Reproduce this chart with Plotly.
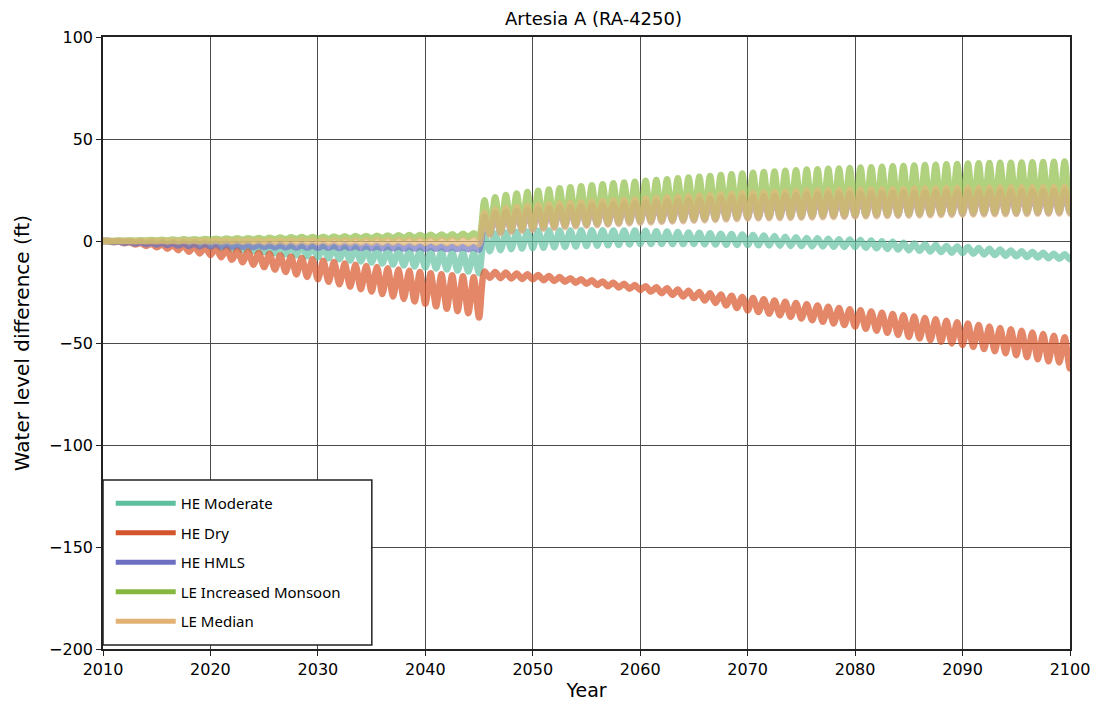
import plotly.graph_objects as go

# ---------------- data ----------------
years = list(range(2010, 2101))  # 91 years; "lo" value at the year, "hi" value half a year later

names = ["HE Moderate", "HE Dry", "HE HMLS", "LE Increased Monsoon", "LE Median"]

# HE Moderate
mod_lo = [0, -0.3, -0.6, -0.9, -1.2, -1.5, -1.8, -2.1, -2.4, -2.7, -3.0, -3.5, -4.0, -4.5, -5.0,
          -5.5, -6.0, -6.5, -7.0, -7.5, -8.0, -8.5, -9.0, -9.5, -10.0, -10.5, -11.0, -11.5, -12.0, -12.5,
          -13.0, -13.5, -14.0, -14.5, -15.0, -15.8,
          -5.0, -4.5, -4.0, -3.7, -3.5, -3.3, -3.1, -2.9, -2.7, -2.5, -2.3, -2.1, -1.9, -1.7, -1.5,
          -1.5, -1.5, -1.5, -1.5, -1.5, -1.6, -1.7, -1.8, -1.9, -2.0, -2.1, -2.2, -2.3, -2.4, -2.5,
          -2.6, -2.7, -2.8, -2.9, -3.0, -3.3, -3.6, -3.9, -4.2, -4.5, -4.8, -5.1, -5.4, -5.7, -6.0,
          -6.3, -6.6, -6.9, -7.2, -7.5, -7.8, -8.1, -8.4, -8.7, -9.0]
mod_hi = [0, 0, -0.1, -0.2, -0.3, -0.4, -0.5, -0.6, -0.7, -0.8, -1.0, -1.2, -1.4, -1.6, -1.8,
          -2.0, -2.2, -2.4, -2.6, -2.8, -3.0, -3.2, -3.4, -3.6, -3.8, -4.0, -4.2, -4.4, -4.6, -4.8,
          -5.0, -5.2, -5.4, -5.6, -5.8,
          3.0, 3.5, 4.0, 4.4, 4.7, 5.0, 5.1, 5.2, 5.2, 5.3, 5.3, 5.3, 5.2, 5.2, 5.1, 5.0,
          4.8, 4.6, 4.4, 4.2, 4.0, 3.8, 3.6, 3.4, 3.2, 3.0, 2.7, 2.4, 2.1, 1.8, 1.5,
          1.3, 1.1, 0.9, 0.7, 0.5, 0.2, -0.1, -0.4, -0.8, -1.2, -1.6, -2.0, -2.4, -2.7, -3.0,
          -3.4, -3.8, -4.2, -4.6, -5.0, -5.4, -5.8, -6.2, -6.5, -6.8]

# HE Dry
dry_lo = [0, -0.5, -1.1, -1.7, -2.4, -3.1, -3.8, -4.5, -5.3, -6.1, -6.9, -8.0, -9.2, -10.4, -11.6,
          -12.8, -14.0, -15.2, -16.4, -17.6, -18.8, -20.0, -21.2, -22.4, -23.6, -24.8, -26.0, -27.2,
          -28.4, -29.6, -30.8, -32.0, -33.2, -34.4, -35.4, -37.5,
          -18.0, -18.2, -18.4, -18.6, -18.8, -19.2, -19.6, -20.0, -20.5, -21.0, -21.6, -22.2, -22.8,
          -23.4, -24.0, -24.8, -25.6, -26.4, -27.2, -28.0, -29.2, -30.4, -31.6, -32.8, -34.0,
          -34.8, -35.6, -36.4, -37.2, -38.0, -38.8, -39.6, -40.4, -41.2, -42.0, -43.0, -44.0, -45.0,
          -46.0, -47.0, -47.8, -48.6, -49.4, -50.2, -51.0, -52.0, -53.0, -54.0, -55.0, -56.0,
          -57.0, -58.0, -59.0, -59.5, -62.5]
dry_hi = [0, -0.3, -0.6, -0.9, -1.2, -1.5, -1.8, -2.1, -2.5, -2.9, -3.3, -3.9, -4.5, -5.1, -5.7,
          -6.3, -7.0, -7.6, -8.3, -9.0, -9.7, -10.3, -11.0, -11.6, -12.2, -12.8, -13.4, -14.0, -14.6,
          -15.2, -15.8, -16.3, -16.8, -17.3, -17.8,
          -15.0, -15.2, -15.5, -15.9, -16.3, -16.7, -17.2, -17.7, -18.2, -18.7, -19.2, -19.8, -20.4,
          -21.0, -21.6, -22.2, -22.7, -23.2, -23.8, -24.4, -25.0, -25.6, -26.2, -26.8, -27.4, -28.0,
          -28.6, -29.2, -29.8, -30.4, -31.0, -31.6, -32.2, -32.8, -33.4, -34.0, -34.6, -35.2, -35.8,
          -36.4, -37.0, -37.7, -38.4, -39.1, -39.8, -40.5, -41.2, -41.9, -42.6, -43.3, -44.0,
          -44.8, -45.6, -46.4, -47.2, -48.0]

# HE HMLS
hmls_lo = [0, -0.5, -0.9, -1.2, -1.5, -1.8, -2.0, -2.2, -2.4, -2.5, -2.6, -2.7, -2.8, -2.9, -3.0,
           -3.0, -3.1, -3.1, -3.2, -3.2, -3.3, -3.3, -3.4, -3.4, -3.5, -3.5, -3.6, -3.6, -3.7, -3.7,
           -3.8, -3.8, -3.9, -3.9, -4.0, -4.2,
           3.5, 4.3, 5.0, 5.5, 6.0, 6.5, 6.9, 7.3, 7.6, 7.9, 8.2, 8.5, 8.8, 9.1, 9.4,
           9.6, 9.8, 10.0, 10.2, 10.4, 10.6, 10.8, 11.0, 11.2, 11.4, 11.5, 11.6, 11.7, 11.8, 11.9,
           12.0, 12.1, 12.2, 12.3, 12.4, 12.5, 12.6, 12.7, 12.8, 12.9, 13.0, 13.1, 13.2, 13.3, 13.4,
           13.5, 13.5, 13.6, 13.6, 13.7, 13.7, 13.8, 13.8, 13.9, 13.9]
hmls_hi = [0, -0.2, -0.4, -0.6, -0.8, -1.0, -1.1, -1.2, -1.3, -1.4, -1.5, -1.6, -1.7, -1.8, -1.9,
           -2.0, -2.0, -2.1, -2.1, -2.2, -2.2, -2.3, -2.3, -2.4, -2.4, -2.5, -2.5, -2.6, -2.6, -2.7,
           -2.7, -2.8, -2.8, -2.9, -2.9,
           12.0, 13.5, 14.2, 14.8, 15.2, 15.6, 16.0, 16.4, 16.7, 17.0, 17.3, 17.6, 17.9, 18.2, 18.5,
           18.8, 19.1, 19.4, 19.7, 20.0, 20.3, 20.6, 20.9, 21.2, 21.5, 21.7, 21.9, 22.1, 22.3, 22.5,
           22.7, 22.8, 22.9, 23.0, 23.1, 23.2, 23.3, 23.4, 23.5, 23.6, 23.7, 23.8, 23.9, 24.0, 24.0,
           24.1, 24.1, 24.2, 24.2, 24.3, 24.3, 24.4, 24.4, 24.5, 24.5, 24.6]

# LE Increased Monsoon
mon_lo = [0, 0, 0.1, 0.1, 0.2, 0.2, 0.3, 0.3, 0.4, 0.4, 0.5, 0.5, 0.6, 0.6, 0.7, 0.7, 0.8, 0.8,
          0.9, 0.9, 1.0, 1.0, 1.1, 1.1, 1.2, 1.2, 1.3, 1.3, 1.4, 1.4, 1.5, 1.5, 1.6, 1.7, 1.9, 2.0,
          4.5, 5.3, 6.0, 6.5, 7.0, 7.5, 7.9, 8.3, 8.6, 8.9, 9.2, 9.5, 9.8, 10.1, 10.4,
          10.6, 10.8, 11.0, 11.2, 11.4, 11.6, 11.8, 12.0, 12.2, 12.4, 12.5, 12.6, 12.7, 12.8, 12.9,
          13.0, 13.1, 13.2, 13.3, 13.4, 13.5, 13.6, 13.7, 13.8, 13.9, 14.0, 14.1, 14.2, 14.3, 14.4,
          14.5, 14.5, 14.6, 14.6, 14.7, 14.7, 14.8, 14.8, 14.9, 14.9]
mon_hi = [0, 0.2, 0.3, 0.4, 0.5, 0.6, 0.7, 0.8, 0.9, 1.0, 1.1, 1.2, 1.3, 1.4, 1.5, 1.6, 1.7, 1.8,
          1.9, 2.0, 2.1, 2.2, 2.3, 2.4, 2.5, 2.6, 2.7, 2.8, 2.9, 3.0, 3.1, 3.2, 3.3, 3.5, 3.8,
          20.0, 21.5, 22.5, 23.3, 24.0, 24.6, 25.2, 25.8, 26.3, 26.8, 27.3, 27.8, 28.3, 28.7, 29.1,
          29.5, 29.9, 30.3, 30.7, 31.1, 31.5, 31.9, 32.3, 32.7, 33.1, 33.5, 33.8, 34.1, 34.4, 34.7,
          35.0, 35.2, 35.4, 35.6, 35.8, 36.0, 36.2, 36.4, 36.6, 36.8, 37.0, 37.2, 37.4, 37.6, 37.8,
          38.0, 38.1, 38.2, 38.3, 38.4, 38.5, 38.6, 38.7, 38.8, 39.0, 39.2]

# LE Median
med_lo = [0, 0, 0, -0.1, -0.1, -0.1, -0.2, -0.2, -0.2, -0.3, -0.3, -0.3, -0.4, -0.4, -0.4, -0.5,
          -0.5, -0.5, -0.6, -0.6, -0.6, -0.7, -0.7, -0.7, -0.8, -0.8, -0.8, -0.9, -0.9, -0.9, -1.0,
          -1.0, -1.1, -1.2, -1.4, -1.6,
          3.0, 3.8, 4.5, 5.0, 5.5, 6.0, 6.4, 6.8, 7.1, 7.4, 7.7, 8.0, 8.3, 8.6, 8.9,
          9.1, 9.3, 9.5, 9.7, 9.9, 10.1, 10.3, 10.5, 10.7, 10.9, 11.0, 11.1, 11.2, 11.3, 11.4,
          11.5, 11.6, 11.7, 11.8, 11.9, 12.0, 12.1, 12.2, 12.3, 12.4, 12.5, 12.6, 12.7, 12.8, 12.9,
          13.0, 13.0, 13.1, 13.1, 13.2, 13.2, 13.3, 13.3, 13.4, 13.4]
med_hi = [0, 0, 0, 0, 0, 0.1, 0.1, 0.1, 0.1, 0.1, 0.2, 0.2, 0.2, 0.2, 0.2, 0.3, 0.3, 0.3, 0.3,
          0.3, 0.4, 0.4, 0.4, 0.4, 0.4, 0.5, 0.5, 0.5, 0.5, 0.5, 0.6, 0.6, 0.6, 0.6, 0.6,
          14.0, 15.5, 16.2, 16.8, 17.2, 17.6, 18.0, 18.4, 18.7, 19.0, 19.3, 19.6, 19.9, 20.2, 20.5,
          20.8, 21.1, 21.4, 21.7, 22.0, 22.3, 22.6, 22.9, 23.2, 23.5, 23.7, 23.9, 24.1, 24.3, 24.5,
          24.7, 24.8, 24.9, 25.0, 25.1, 25.2, 25.3, 25.4, 25.5, 25.6, 25.7, 25.8, 25.9, 26.0, 26.0,
          26.1, 26.1, 26.2, 26.2, 26.3, 26.3, 26.4, 26.4, 26.5, 26.5, 26.6]

series_lo = [mod_lo, dry_lo, hmls_lo, mon_lo, med_lo]
series_hi = [mod_hi, dry_hi, hmls_hi, mon_hi, med_hi]

# ---------------- style ----------------
line_colors = ["#66c2a5", "#d9552a", "#7476c4", "#8fc04a", "#e3b978"]
legend_colors = ["#5dbf9f", "#d4552c", "#6c6fc2", "#86b840", "#e2b274"]

fig = go.Figure()

for name, lo, hi, col in zip(names, series_lo, series_hi, line_colors):
    xs, ys = [], []
    for yr, a, b in zip(years, lo, hi):
        xs += [yr, yr + 0.5]
        ys += [a, b]
    fig.add_trace(go.Scatter(
        x=xs, y=ys, mode="lines", name=name, showlegend=False,
        line=dict(color=col, width=6.5, shape="spline", smoothing=0.8),
        opacity=0.7, hoverinfo="skip"))

for i, (name, col) in enumerate(zip(names, legend_colors)):
    fig.add_trace(go.Scatter(
        x=[None], y=[None], mode="lines", name=name, legendgroup="g%d" % i,
        line=dict(color=col, width=5), showlegend=True))

axis_common = dict(
    showgrid=True, gridcolor="#4a4a4a", gridwidth=1.3,
    showline=True, linecolor="#222222", linewidth=1.5, mirror=True,
    ticks="outside", ticklen=5, tickcolor="#222222", tickwidth=1.2,
    zeroline=False, automargin=False,
    tickfont=dict(family="DejaVu Sans", size=16, color="#000000"),
)

# legend frame (plot-area fractions)
fig.add_shape(type="rect", xref="paper", yref="paper",
              x0=0.0, x1=0.278, y0=0.0065, y1=0.276,
              line=dict(color="#222222", width=1.5), fillcolor="white", layer="above")

fig.update_layout(
    width=1087, height=693,
    paper_bgcolor="white", plot_bgcolor="white",
    margin=dict(l=95, r=25, t=29, b=52, autoexpand=False),
    title=dict(text="Artesia A (RA-4250)", x=0.5386, xanchor="center", y=0.985, yanchor="middle",
               font=dict(family="DejaVu Sans", size=18, color="#000000")),
    xaxis=dict(range=[2010, 2100], dtick=10, tick0=2010,
               title=dict(text="Year", font=dict(family="DejaVu Sans", size=19, color="#000000"),
                          standoff=17),
               **axis_common),
    yaxis=dict(range=[-200, 100], dtick=50, tick0=0,
               title=dict(text="Water level difference (ft)",
                          font=dict(family="DejaVu Sans", size=20, color="#000000"), standoff=14),
               **axis_common),
    legend=dict(x=0.008, xanchor="left", y=0.2647, yanchor="top",
                bgcolor="rgba(0,0,0,0)", borderwidth=0,
                font=dict(family="Noto Sans", size=15, color="#000000"),
                itemwidth=60, tracegroupgap=7),
    showlegend=True,
)

fig.write_html("out.html")
